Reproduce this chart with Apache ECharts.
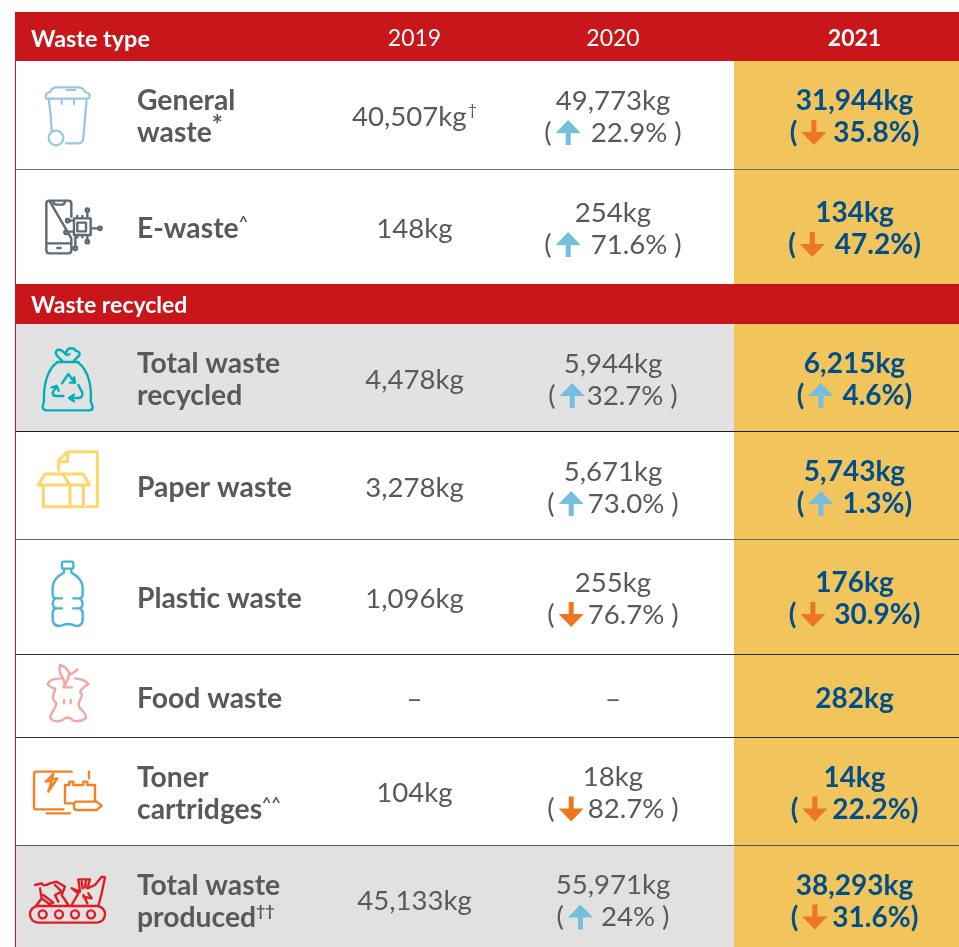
<!DOCTYPE html>
<html lang="en">
<head>
    <meta charset="UTF-8">
    <title>Waste by type</title>
    <style>
        * {
            margin: 0;
            padding: 0;
            box-sizing: border-box;
        }

        html, body {
            width: 959px;
            height: 947px;
            background: #ffffff;
            overflow: hidden;
        }

        #chart {
            width: 959px;
            height: 947px;
        }
    </style>
    <script src="https://cdn.jsdelivr.net/npm/echarts@6/dist/echarts.min.js"></script>
</head>
<body>
<div id="chart"></div>
<script type="text/javascript">
    // table data
    var headerTitle = 'Waste type'
    var sectionTitle = 'Waste recycled'
    var years = ['2019', '2020', '2021']
    var labelLines = [
        ['General', 'waste'],
        ['E-waste'],
        ['Total waste', 'recycled'],
        ['Paper waste'],
        ['Plastic waste'],
        ['Food waste'],
        ['Toner', 'cartridges'],
        ['Total waste', 'produced']
    ]
    var labelNotes = ['*', '^', '', '', '', '', '^^', '††']
    var values2019 = ['40,507kg', '148kg', '4,478kg', '3,278kg', '1,096kg', '–', '104kg', '45,133kg']
    var notes2019 = ['†', '', '', '', '', '', '', '']
    var values2020 = ['49,773kg', '254kg', '5,944kg', '5,671kg', '255kg', '–', '18kg', '55,971kg']
    var change2020 = ['22.9%', '71.6%', '32.7%', '73.0%', '76.7%', '', '82.7%', '24%']
    var trend2020 = ['up', 'up', 'up', 'up', 'down', '', 'down', 'up']
    var values2021 = ['31,944kg', '134kg', '6,215kg', '5,743kg', '176kg', '282kg', '14kg', '38,293kg']
    var change2021 = ['35.8%', '47.2%', '4.6%', '1.3%', '30.9%', '', '22.2%', '31.6%']
    var trend2021 = ['down', 'down', 'up', 'up', 'down', '', 'down', 'down']

    // layout, in page pixels
    var LEFT = 15
    var RIGHT = 959
    var COL_2021 = 734
    var rowTops = [61, 169, 324, 432, 540, 654, 737, 845]
    var rowBottoms = [169, 284, 431, 539, 654, 737, 845, 947]
    var rowCenters = [116, 228, 379, 487, 598, 698, 792.5, 900.5]
    var rowFills = ['#ffffff', '#ffffff', '#e2e2e2', '#ffffff', '#ffffff', '#ffffff', '#ffffff', '#e1e1e1']
    var ruleTops = [169, 431, 539, 654, 737, 845]
    var ruleColors = ['#6f6f6f', '#1c1c1c', '#6a6a6a', '#2e2e2e', '#2e2e2e', '#585858']
    var columnCenters = [414.5, 613, 854.5]
    var arrowGaps2020 = [10, 10, 2, 4, 4, 0, 4, 8]
    var arrowGaps2021 = [7, 10, 9, 9, 9, 0, 5, 5]
    var LINE_OFFSET = 16
    var TEXT_NUDGE = 1

    var RED = '#c8161a'
    var YELLOW = '#f2c45c'
    var TEXT = '#58595b'
    var BLUE = '#004f8a'
    var ARROW_UP = '#74bfdd'
    var ARROW_DOWN = '#ee7623'
    var FONT = 'Lato'

    function dot(x, y, r) {
        return 'M' + (x - r) + ' ' + y + 'a' + r + ' ' + r + ' 0 1 0 ' + (2 * r) + ' 0a' + r + ' ' + r + ' 0 1 0 ' + (-2 * r) + ' 0'
    }

    // icon outlines, traced at 3x inside a 320px square
    var iconTops = [0, 0, 330, 330, 330, 650, 650, 650]
    var iconColors = ['#98c7df', '#5f6a72', '#00b0b9', '#ffd66b', '#46b5d8', '#f4a6a2', '#f58220', '#e31b23']
    var iconWidths = [2.2, 2.4, 2.4, 3, 2.4, 2.4, 2.4, 2.4]
    var iconPaths = [
        'M140 296H264Q270 296 269 286Q267 277 255 276Q248 262 235 262H170Q157 262 150 276Q139 278 137 286Q136 296 140 296Z' +
        'M200 270H226M146 296L152 345L155 392M260 296L250 415Q248 430 235 430H198M185 296V312M222 296V312' + dot(168, 414, 22),
        'M148 602H205Q214 602 214 611V650M214 715V751Q214 760 205 760H148Q139 760 139 751V611Q139 602 148 602Z' +
        'M160 606Q162 614 170 614H185Q192 614 195 606M139 730H208M172 744H182' +
        'M222 655H272V705H222ZM232 668H258V694H232Z' +
        'M232 648V655M247 648V655M262 648V655M232 705V712M247 705V712' +
        'M272 685H295M262 650V635M262 705V720M226 712V740M222 662H208M222 695H204' +
        dot(300, 685, 5) + dot(262, 630, 5) + dot(262, 725, 5) + dot(226, 745, 5) + dot(203, 662, 5) + dot(198, 697, 5),
        'M170 98C140 120 130 170 132 215Q128 225 128 232Q130 241 140 241H268Q278 241 278 232Q278 225 272 215C276 170 265 120 235 98' +
        'M172 96H235M186 92L172 78Q163 68 172 60Q184 56 196 72Q204 50 215 56Q225 54 226 62Q242 65 238 76L222 92M196 72Q202 78 208 72' +
        'M186 160L205 132L222 155M210 158H225L222 142M170 168L158 188Q158 198 168 198H190M155 172L170 168L176 182' +
        'M235 165L247 188Q248 203 238 204H208M222 194L207 204L222 214',
        'M176 420V390L203 365H292V530H260M203 365V395H176' +
        'M130 465V530H250V465M210 465V530M135 432H250L268 465H210L188 432M135 432L115 465H210',
        'M190 695H216Q220 695 220 699V712Q220 716 216 716H190Q186 716 186 712V699Q186 695 190 695Z' +
        'M192 716V728Q160 745 158 770V795Q158 802 166 805Q158 812 158 820Q158 830 166 835Q158 840 158 850V870Q160 888 180 888Q195 882 205 882Q215 882 228 888Q248 888 248 870V850Q248 840 240 835Q248 830 248 820Q248 812 240 805Q248 802 248 795V770Q245 745 214 728V716' +
        'M166 805H186M240 805H220M166 835H186M240 835H220',
        'M185 85Q150 85 142 102Q155 115 165 115Q165 125 160 135Q155 150 170 160Q165 175 155 190Q145 205 160 212Q180 218 195 205Q205 198 220 212Q240 218 258 205Q258 190 240 175Q232 160 240 150Q250 135 240 125Q245 115 265 102Q255 88 225 85' +
        'M190 112H215M192 112Q195 100 190 85Q175 70 180 45Q200 50 208 70Q205 90 195 105M208 75Q220 70 232 58M192 150V160M212 150V160',
        'M215 365H108Q102 365 102 372V470Q102 478 108 478H190M140 490H210M267 365V385' +
        'M160 372L137 395L155 392L145 425L172 385L155 388L160 372' +
        'M195 460V405H208V395H220V405H250V395H262V405H285V455M222 460H195' +
        'M230 455H290L305 467L290 480H230Q222 480 222 470V462Q222 455 230 455Z',
        'M115 768H290A25 25 0 0 1 290 818H115A25 25 0 0 1 115 768Z' +
        dot(128, 793, 12) + dot(177, 793, 12) + dot(225, 793, 12) + dot(273, 793, 12) +
        'M105 705L125 700Q130 712 150 700L170 695L195 710L185 735L205 765M120 715L125 745L108 768M130 735L160 758L148 762L125 745M165 705L185 725L165 735L175 755' +
        'M215 765L235 730L215 715L240 725L235 688H270L262 715L285 705L305 680L315 682L305 730L295 768M245 695L248 715M258 690L255 712M250 735L262 760M265 730L275 745L250 740'
    ]

    var measure = document.createElement('canvas').getContext('2d')

    function textWidth(str, font) {
        measure.font = font
        return measure.measureText(str).width
    }

    function textEl(api, x, y, str, font, fill, align) {
        var p = api.coord([x, y + TEXT_NUDGE])
        return {
            type: 'text',
            style: {x: p[0], y: p[1], text: str, font: font, fill: fill, align: align || 'left', verticalAlign: 'middle'}
        }
    }

    function rectEl(api, x0, y0, x1, y1, fill) {
        var a = api.coord([x0, y0])
        var b = api.coord([x1, y1])
        return {type: 'rect', shape: {x: a[0], y: a[1], width: b[0] - a[0], height: b[1] - a[1]}, style: {fill: fill}}
    }

    // arrow in a 25px box, built through the axes
    function arrowEl(api, x, cy, trend) {
        var top = api.coord([x, cy - 12.5])
        var size = api.coord([x + 25, cy + 12.5])
        var path = trend === 'up'
            ? 'M12.5 0L25 13H15V25H10V13H0Z'
            : 'M10 0H15V12H25L12.5 25L0 12H10Z'
        return {
            type: 'path',
            shape: {pathData: path, x: top[0], y: top[1], width: size[0] - top[0], height: size[1] - top[1], layout: 'cover'},
            style: {fill: trend === 'up' ? ARROW_UP : ARROW_DOWN}
        }
    }

    // ( arrow 22.9% ) centred on the column
    function changeLine(api, cx, cy, str, trend, gap, font, fill, padParen) {
        var openW = textWidth('(', font)
        var textW = textWidth(str, font)
        var closeW = textWidth(')', font)
        var total = openW + 4 + 25 + gap + textW + padParen + closeW
        var x = cx - total / 2
        var out = [textEl(api, x, cy, '(', font, fill)]
        x += openW + 4
        out.push(arrowEl(api, x, cy + 0.5, trend))
        x += 25 + gap
        out.push(textEl(api, x, cy, str, font, fill))
        x += textW + padParen
        out.push(textEl(api, x, cy, ')', font, fill))
        return out
    }

    function renderBands(params, api) {
        var regular = '400 23px ' + FONT
        var bold = '700 23px ' + FONT
        return {
            type: 'group',
            children: [
                rectEl(api, LEFT, 12, RIGHT, 61, RED),
                rectEl(api, LEFT, 284, RIGHT, 324, RED),
                rectEl(api, LEFT, 61, LEFT + 1, 947, RED),
                textEl(api, 31, 38, headerTitle, '700 23.4px ' + FONT, '#ffffff'),
                textEl(api, columnCenters[0], 37.5, years[0], regular, '#ffffff', 'center'),
                textEl(api, columnCenters[1], 37.5, years[1], regular, '#ffffff', 'center'),
                textEl(api, columnCenters[2], 37.5, years[2], bold, '#ffffff', 'center'),
                textEl(api, 31, 305, sectionTitle, '700 23px ' + FONT, '#ffffff')
            ]
        }
    }

    function renderRow(params, api) {
        var i = api.value(0)
        var cy = rowCenters[i]
        var kids = [
            rectEl(api, LEFT + 1, rowTops[i], COL_2021, rowBottoms[i], rowFills[i]),
            rectEl(api, COL_2021, rowTops[i], RIGHT, rowBottoms[i], YELLOW)
        ]

        // icon
        var iconTop = api.coord([0, iconTops[i]])
        var iconEnd = api.coord([320, iconTops[i] + 320])
        kids.push({
            type: 'path',
            shape: {
                pathData: 'M0 0M960 960' + iconPaths[i],
                x: iconTop[0],
                y: iconTop[1],
                width: iconEnd[0] - iconTop[0],
                height: iconEnd[1] - iconTop[1],
                layout: 'cover'
            },
            style: {fill: null, stroke: iconColors[i], lineWidth: iconWidths[i], lineCap: 'round', lineJoin: 'round'}
        })

        // label
        var labelFont = '700 28.3px ' + FONT
        var lines = labelLines[i]
        lines.forEach(function (line, n) {
            var y = lines.length === 2 ? cy + (n === 0 ? -LINE_OFFSET : LINE_OFFSET) : cy
            kids.push(textEl(api, 137, y, line, labelFont, TEXT))
            if (n === lines.length - 1 && labelNotes[i]) {
                // the asterisk glyph is tiny in this face, so it gets a larger size
                var noteBold = labelNotes[i] === '*' ? '700 26px ' + FONT : '700 16px ' + FONT
                kids.push(textEl(api, 137 + textWidth(line, labelFont), y - 7, labelNotes[i], noteBold, TEXT))
            }
        })

        // 2019
        var regular = '400 27.6px ' + FONT
        var noteFont = '400 16px ' + FONT
        var w = textWidth(values2019[i], regular)
        var noteW = notes2019[i] ? textWidth(notes2019[i], noteFont) + 1 : 0
        var x = columnCenters[0] - (w + noteW) / 2
        kids.push(textEl(api, x, cy, values2019[i], regular, TEXT))
        if (noteW) {
            kids.push(textEl(api, x + w + 1, cy - 7, notes2019[i], noteFont, TEXT))
        }

        // 2020
        if (change2020[i]) {
            kids.push(textEl(api, columnCenters[1], cy - LINE_OFFSET, values2020[i], regular, TEXT, 'center'))
            kids = kids.concat(changeLine(api, columnCenters[1], cy + LINE_OFFSET, change2020[i], trend2020[i], arrowGaps2020[i], regular, TEXT, 7))
        } else {
            kids.push(textEl(api, columnCenters[1], cy, values2020[i], regular, TEXT, 'center'))
        }

        // 2021
        var bold = '700 28px ' + FONT
        if (change2021[i]) {
            kids.push(textEl(api, columnCenters[2], cy - LINE_OFFSET, values2021[i], bold, BLUE, 'center'))
            kids = kids.concat(changeLine(api, columnCenters[2], cy + LINE_OFFSET, change2021[i], trend2021[i], arrowGaps2021[i], bold, BLUE, 0))
        } else {
            kids.push(textEl(api, columnCenters[2], cy, values2021[i], bold, BLUE, 'center'))
        }

        return {type: 'group', children: kids}
    }

    function renderRules(params, api) {
        var i = api.value(0)
        return rectEl(api, LEFT + 1, ruleTops[i], RIGHT, ruleTops[i] + 1, ruleColors[i])
    }

    var myChart = echarts.init(document.getElementById('chart'))
    myChart.setOption({
        animation: false,
        grid: {left: 0, right: 0, top: 0, bottom: 0},
        xAxis: {type: 'value', min: 0, max: 959, show: false},
        yAxis: {type: 'value', min: 0, max: 947, inverse: true, show: false},
        series: [
            {
                type: 'custom',
                clip: false,
                silent: true,
                data: labelLines.map(function (_v, i) { return [i] }),
                renderItem: renderRow
            },
            {
                type: 'custom',
                clip: false,
                silent: true,
                data: [[0]],
                renderItem: renderBands
            },
            {
                type: 'custom',
                clip: false,
                silent: true,
                data: ruleTops.map(function (_v, i) { return [i] }),
                renderItem: renderRules
            }
        ]
    })
</script>
</body>
</html>
